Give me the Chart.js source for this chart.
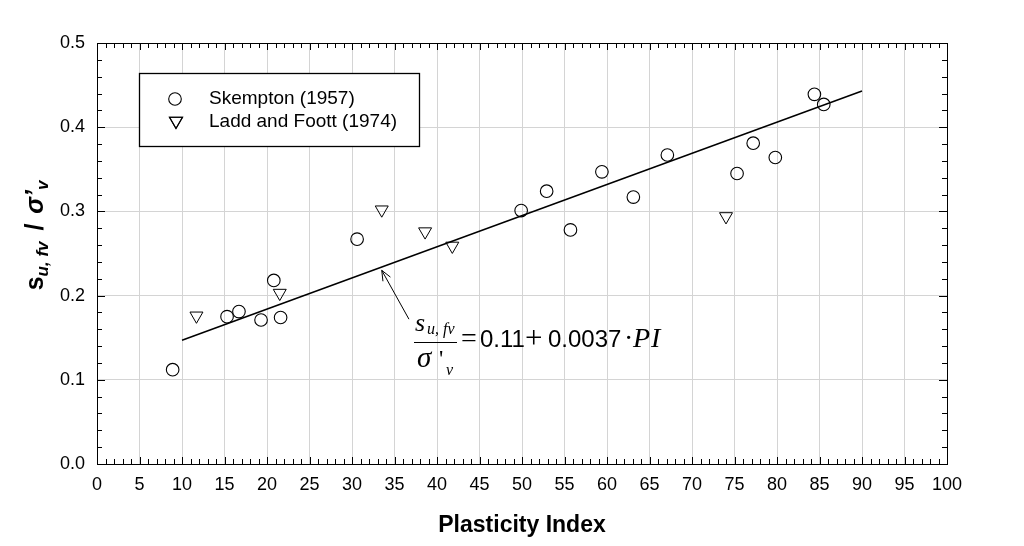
<!DOCTYPE html>
<html>
<head>
<meta charset="utf-8">
<script src="https://cdn.jsdelivr.net/npm/chart.js@4.4.0/dist/chart.umd.min.js"></script>
<style>
  html, body { margin: 0; padding: 0; background: #fff; }
  #wrap { width: 1024px; height: 546px; }
</style>
</head>
<body>
<div id="wrap"><canvas id="plasticityChart" width="1024" height="546"></canvas></div>
<script>
// Skempton (1957) data
const skemptonPI = [8.9, 15.3, 16.7, 19.3, 20.8, 21.6, 30.6, 49.9, 52.9, 55.7, 59.4, 63.1, 67.1, 75.3, 77.2, 79.8, 84.4, 85.5];
const skemptonRatio = [0.112, 0.175, 0.181, 0.171, 0.218, 0.174, 0.267, 0.301, 0.324, 0.278, 0.347, 0.317, 0.367, 0.345, 0.381, 0.364, 0.439, 0.427];

// Ladd and Foott (1974) data
const laddPI = [11.7, 21.5, 33.5, 38.6, 41.8, 74.0];
const laddRatio = [0.176, 0.203, 0.302, 0.276, 0.259, 0.294];

// regression line end points
const fitPI = [10, 90];
const fitRatio = [0.147, 0.443];

// arrow pointing from equation to the line (tail, tip)
const arrowPI = [36.7, 33.5];
const arrowRatio = [0.172, 0.230];

const legendLabels = ['Skempton (1957)', 'Ladd and Foott (1974)'];

const SANS = '"Liberation Sans", Arial, sans-serif';
const SERIF = '"Liberation Serif", "Times New Roman", serif';

function toPoints(xs, ys) {
    return xs.map((x, i) => ({ x: x, y: ys[i] }));
}

// frame, inward minor ticks on all four sides
const frameTicks = {
    id: 'frameTicks',
    afterDraw(chart) {
        const ctx = chart.ctx;
        const a = chart.chartArea;
        const xs = chart.scales.x, ys = chart.scales.y;
        ctx.save();
        ctx.strokeStyle = '#000';
        ctx.lineWidth = 1;
        ctx.beginPath();
        for (let v = 0; v <= 100; v++) {
            const px = Math.round(xs.getPixelForValue(v)) + 0.5;
            const len = v % 5 === 0 ? 7 : 5;
            ctx.moveTo(px, a.bottom); ctx.lineTo(px, a.bottom - len);
            ctx.moveTo(px, a.top); ctx.lineTo(px, a.top + len);
        }
        for (let k = 0; k <= 25; k++) {
            const py = Math.round(ys.getPixelForValue(k * 0.02)) + 0.5;
            const len = k % 5 === 0 ? 8 : 5;
            ctx.moveTo(a.left, py); ctx.lineTo(a.left + len, py);
            ctx.moveTo(a.right, py); ctx.lineTo(a.right - len, py);
        }
        ctx.stroke();
        ctx.strokeRect(Math.round(a.left) + 0.5, Math.round(a.top) + 0.5,
            Math.round(a.right - a.left), Math.round(a.bottom - a.top));
        ctx.restore();
    }
};

// legend box inside the plot
const insideLegend = {
    id: 'insideLegend',
    afterDraw(chart) {
        const ctx = chart.ctx;
        const a = chart.chartArea;
        const bx = a.left + 42, by = a.top + 30, bw = 280, bh = 73;
        ctx.save();
        ctx.fillStyle = '#fff';
        ctx.fillRect(bx, by, bw, bh);
        ctx.strokeStyle = '#000';
        ctx.lineWidth = 1.3;
        ctx.strokeRect(bx + 0.5, by + 0.5, bw, bh);
        ctx.lineWidth = 1.1;
        // circle
        ctx.beginPath();
        ctx.arc(bx + 36, by + 26, 6.3, 0, Math.PI * 2);
        ctx.stroke();
        // inverted triangle
        Chart.helpers.drawPoint(ctx, { pointStyle: 'triangle', radius: 7.5, rotation: 180, borderWidth: 1 }, bx + 37, by + 48);
        ctx.stroke();
        ctx.fillStyle = '#000';
        ctx.font = '19px ' + SANS;
        ctx.textBaseline = 'middle';
        ctx.fillText(legendLabels[0], bx + 70, by + 26);
        ctx.fillText(legendLabels[1], bx + 70, by + 49);
        ctx.restore();
    }
};

// regression equation and arrow
const equationNote = {
    id: 'equationNote',
    afterDraw(chart) {
        const ctx = chart.ctx;
        const xs = chart.scales.x, ys = chart.scales.y;
        ctx.save();
        ctx.strokeStyle = '#000';
        ctx.fillStyle = '#000';
        ctx.lineWidth = 1;
        // arrow
        const tx = xs.getPixelForValue(arrowPI[0]), ty = ys.getPixelForValue(arrowRatio[0]);
        const hx = xs.getPixelForValue(arrowPI[1]), hy = ys.getPixelForValue(arrowRatio[1]);
        const ang = Math.atan2(hy - ty, hx - tx);
        ctx.beginPath();
        ctx.moveTo(tx, ty); ctx.lineTo(hx, hy);
        ctx.moveTo(hx, hy); ctx.lineTo(hx - 11 * Math.cos(ang - 0.4), hy - 11 * Math.sin(ang - 0.4));
        ctx.moveTo(hx, hy); ctx.lineTo(hx - 11 * Math.cos(ang + 0.4), hy - 11 * Math.sin(ang + 0.4));
        ctx.stroke();

        // fraction
        const fx = Math.round(tx + 5), fy = Math.round(ty + 23);
        ctx.beginPath();
        ctx.moveTo(fx, fy + 0.5); ctx.lineTo(fx + 43, fy + 0.5);
        ctx.stroke();
        ctx.textBaseline = 'alphabetic';
        ctx.font = 'italic 26px ' + SERIF;
        ctx.fillText('s', fx + 1, fy - 11);
        ctx.font = 'italic 16px ' + SERIF;
        ctx.fillText('u, fv', fx + 13, fy - 8);
        ctx.font = 'italic 29px ' + SERIF;
        ctx.fillText('σ', fx + 3, fy + 25);
        ctx.font = '24px ' + SERIF;
        ctx.fillText("'", fx + 25, fy + 24);
        ctx.font = 'italic 16px ' + SERIF;
        ctx.fillText('v', fx + 32, fy + 33);

        // right hand side
        const base = fy + 5;
        ctx.font = '28px ' + SERIF;
        ctx.fillText('=', fx + 47, base);
        ctx.font = '24px ' + SANS;
        ctx.fillText('0.11', fx + 66, base);
        ctx.font = '31px ' + SERIF;
        ctx.fillText('+', fx + 111, base + 1);
        ctx.font = '24px ' + SANS;
        ctx.fillText('0.0037', fx + 134, base);
        ctx.font = '28px ' + SERIF;
        ctx.fillText('·', fx + 210, base);
        ctx.font = 'italic 28px ' + SERIF;
        ctx.fillText('P', fx + 219, base);
        ctx.fillText('I', fx + 237, base);
        ctx.restore();
    }
};

// rotated y axis title with subscripts
const yTitle = {
    id: 'yTitle',
    afterDraw(chart) {
        const ctx = chart.ctx;
        const parts = [
            { t: 's', f: 'bold 25px ' + SANS, dy: 0, gap: 0 },
            { t: 'u, fv', f: 'bold italic 17px ' + SANS, dy: 5, gap: 4 },
            { t: ' / ', f: 'bold 25px ' + SANS, dy: 0, gap: 3 },
            { t: 'σ’', f: 'bold italic 25px ' + SANS, dy: 0, gap: 0 },
            { t: 'v', f: 'bold italic 17px ' + SANS, dy: 5, gap: 0 }
        ];
        ctx.save();
        let total = 0;
        parts.forEach(p => { ctx.font = p.f; p.w = ctx.measureText(p.t).width; total += p.w + p.gap; });
        const cy = (chart.chartArea.top + chart.chartArea.bottom) / 2 - 18;
        ctx.translate(43, cy);
        ctx.rotate(-Math.PI / 2);
        ctx.fillStyle = '#000';
        ctx.textBaseline = 'alphabetic';
        let x = -total / 2;
        parts.forEach(p => {
            ctx.font = p.f;
            ctx.fillText(p.t, x, p.dy);
            x += p.w + p.gap;
        });
        ctx.restore();
    }
};

const ctx = document.getElementById('plasticityChart').getContext('2d');
const chart = new Chart(ctx, {
    type: 'scatter',
    data: {
        datasets: [
            {
                label: legendLabels[0],
                data: toPoints(skemptonPI, skemptonRatio),
                pointStyle: 'circle',
                pointRadius: 6.3,
                pointHoverRadius: 6.3,
                borderColor: '#000',
                backgroundColor: 'rgba(0,0,0,0)',
                borderWidth: 1.1
            },
            {
                label: legendLabels[1],
                data: toPoints(laddPI, laddRatio),
                pointStyle: 'triangle',
                rotation: 180,
                pointRadius: 7.5,
                pointHoverRadius: 7.5,
                borderColor: '#000',
                backgroundColor: 'rgba(0,0,0,0)',
                borderWidth: 1
            },
            {
                label: 'fit',
                type: 'line',
                data: toPoints(fitPI, fitRatio),
                borderColor: '#000',
                borderWidth: 1.5,
                pointRadius: 0,
                fill: false
            }
        ]
    },
    options: {
        responsive: false,
        animation: false,
        layout: { padding: { top: 43, right: 77, left: 0, bottom: 0 } },
        plugins: {
            legend: { display: false },
            tooltip: { enabled: false }
        },
        scales: {
            x: {
                type: 'linear',
                min: 0,
                max: 100,
                afterFit(scale) { scale.height = 82; },
                ticks: {
                    stepSize: 5,
                    color: '#000',
                    padding: 10,
                    maxRotation: 0,
                    font: { family: SANS, size: 18 }
                },
                grid: { color: '#d4d4d4', lineWidth: 1, drawTicks: false },
                border: { display: true, color: '#000', width: 1 },
                title: {
                    display: true,
                    text: 'Plasticity Index',
                    color: '#000',
                    font: { family: SANS, size: 23, weight: 'bold' },
                    padding: { top: 0, bottom: 7 }
                }
            },
            y: {
                type: 'linear',
                min: 0,
                max: 0.5,
                afterFit(scale) { scale.width = 97; },
                ticks: {
                    stepSize: 0.1,
                    color: '#000',
                    padding: 12,
                    font: { family: SANS, size: 18 },
                    callback: v => v.toFixed(1)
                },
                grid: { color: '#d4d4d4', lineWidth: 1, drawTicks: false },
                border: { display: true, color: '#000', width: 1 }
            }
        }
    },
    plugins: [frameTicks, insideLegend, equationNote, yTitle]
});
</script>
</body>
</html>
